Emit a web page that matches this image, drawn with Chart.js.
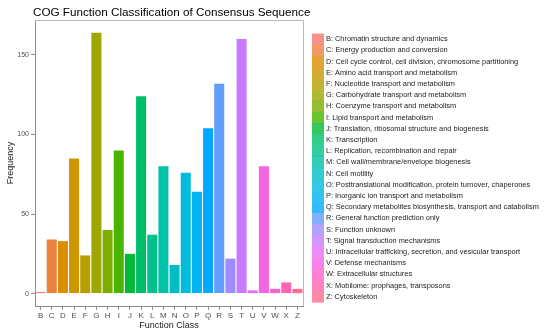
<!DOCTYPE html>
<html>
<head>
<meta charset="utf-8">
<script src="https://cdn.jsdelivr.net/npm/chart.js@4"></script>
<style>
  html, body { margin: 0; padding: 0; background: #fff; }
  #wrap { width: 550px; height: 335px; }
</style>
</head>
<body>
<div id="wrap"><canvas id="chartCog" width="550" height="335"></canvas></div>
<script>
const categories = ["B", "C", "D", "E", "F", "G", "H", "I", "J", "K", "L", "M",
  "N", "O", "P", "Q", "R", "S", "T", "U", "V", "W", "X", "Z"];
const frequency = [1, 34, 33, 85, 24, 164, 40, 90, 25, 124, 37, 80,
  18, 76, 64, 104, 132, 22, 160, 2, 80, 3, 7, 3];
const descriptions = [
  "Chromatin structure and dynamics",
  "Energy production and conversion",
  "Cell cycle control, cell division, chromosome partitioning",
  "Amino acid transport and metabolism",
  "Nucleotide transport and metabolism",
  "Carbohydrate transport and metabolism",
  "Coenzyme transport and metabolism",
  "Lipid transport and metabolism",
  "Translation, ribosomal structure and biogenesis",
  "Transcription",
  "Replication, recombination and repair",
  "Cell wall/membrane/envelope biogenesis",
  "Cell motility",
  "Posttranslational modification, protein turnover, chaperones",
  "Inorganic ion transport and metabolism",
  "Secondary metabolites biosynthesis, transport and catabolism",
  "General function prediction only",
  "Function unknown",
  "Signal transduction mechanisms",
  "Intracellular trafficking, secretion, and vesicular transport",
  "Defense mechanisms",
  "Extracellular structures",
  "Mobilome: prophages, transposons",
  "Cytoskeleton"
];
const yTicks = [0, 50, 100, 150];
const chartTitle = "COG Function Classification of Consensus Sequence";
const xTitle = "Function Class";
const yTitle = "Frequency";

const FONT = "'Liberation Sans', Arial, Helvetica, sans-serif";

// ggplot-style hue palette (polar LUV, l = 65, c = 100)
function hclHex(h, c, l) {
  const rad = h * Math.PI / 180;
  const U = c * Math.cos(rad), V = c * Math.sin(rad);
  const Xn = 95.047, Yn = 100, Zn = 108.883;
  const un = 4 * Xn / (Xn + 15 * Yn + 3 * Zn);
  const vn = 9 * Yn / (Xn + 15 * Yn + 3 * Zn);
  const Y = l > 8 ? Yn * Math.pow((l + 16) / 116, 3) : Yn * l / 903.3;
  const u = U / (13 * l) + un, v = V / (13 * l) + vn;
  const X = 9 * Y * u / (4 * v);
  const Z = -X / 3 - 5 * Y + 3 * Y / v;
  function gam(t) {
    t = t <= 0.0031308 ? 12.92 * t : 1.055 * Math.pow(t, 1 / 2.4) - 0.055;
    return Math.round(Math.max(0, Math.min(1, t)) * 255);
  }
  const r = gam((3.240479 * X - 1.53715 * Y - 0.498535 * Z) / 100);
  const g = gam((-0.969256 * X + 1.875992 * Y + 0.041556 * Z) / 100);
  const b = gam((0.055648 * X - 0.204043 * Y + 1.057311 * Z) / 100);
  return "#" + [r, g, b].map(function (x) { return x.toString(16).padStart(2, "0"); }).join("");
}
const colors = categories.map(function (_, i) {
  return hclHex(15 + 360 * i / categories.length, 100, 65);
});

const decorPlugin = {
  id: "decor",
  beforeDatasetsDraw(chart) {
    const ctx = chart.ctx, a = chart.chartArea;
    ctx.save();
    ctx.strokeStyle = "#b8b8b8";
    ctx.lineWidth = 1;
    ctx.beginPath();
    ctx.moveTo(a.left, a.top + 0.5);
    ctx.lineTo(a.right + 0.5, a.top + 0.5);
    ctx.lineTo(a.right + 0.5, a.bottom);
    ctx.stroke();
    ctx.restore();
  },
  afterDraw(chart) {
    const ctx = chart.ctx;
    ctx.save();
    // title
    ctx.fillStyle = "#000";
    ctx.font = "11.7px " + FONT;
    ctx.textBaseline = "middle";
    ctx.textAlign = "left";
    ctx.fillText(chartTitle, 33, 13);
    // legend
    const x0 = 312, top = 33.5, step = 11.2;
    ctx.font = "7.4px " + FONT;
    categories.forEach(function (c, i) {
      const y = top + i * step;
      ctx.fillStyle = colors[i];
      ctx.globalAlpha = 0.8;
      ctx.fillRect(x0, y, 12, step + 0.3);
      ctx.globalAlpha = 1;
      ctx.fillStyle = "#1a1a1a";
      ctx.fillText(c + ": " + descriptions[i], x0 + 14, y + step / 2);
    });
    ctx.restore();
  }
};

new Chart(document.getElementById("chartCog"), {
  type: "bar",
  data: {
    labels: categories,
    datasets: [{
      data: frequency,
      backgroundColor: colors,
      borderWidth: 0,
      categoryPercentage: 1,
      barPercentage: 0.9
    }]
  },
  options: {
    responsive: false,
    animation: false,
    layout: { padding: { top: 20, right: 247, left: 0, bottom: 0 } },
    plugins: { legend: { display: false }, tooltip: { enabled: false } },
    scales: {
      x: {
        offset: true,
        afterFit: function (s) { s.height = 29; },
        grid: { display: true, drawOnChartArea: false, tickLength: 4, color: "#8c8c8c", offset: false },
        border: { display: true, color: "#8c8c8c" },
        ticks: { color: "#4d4d4d", font: { size: 8, family: FONT }, padding: 1, maxRotation: 0, autoSkip: false },
        title: { display: true, text: xTitle, color: "#1a1a1a", font: { size: 9, family: FONT }, padding: { top: 0, bottom: 4 } }
      },
      y: {
        min: -7.8,
        max: 172,
        afterFit: function (s) { s.width = 35; },
        afterBuildTicks: function (s) { s.ticks = yTicks.map(function (v) { return { value: v }; }); },
        grid: { display: true, drawOnChartArea: false, tickLength: 4, color: "#8c8c8c" },
        border: { display: true, color: "#8c8c8c" },
        ticks: { color: "#4d4d4d", font: { size: 7, family: FONT }, padding: 2 },
        title: { display: true, text: yTitle, color: "#1a1a1a", font: { size: 9, family: FONT }, padding: { top: 5, bottom: 0 } }
      }
    }
  },
  plugins: [decorPlugin]
});
</script>
</body>
</html>
